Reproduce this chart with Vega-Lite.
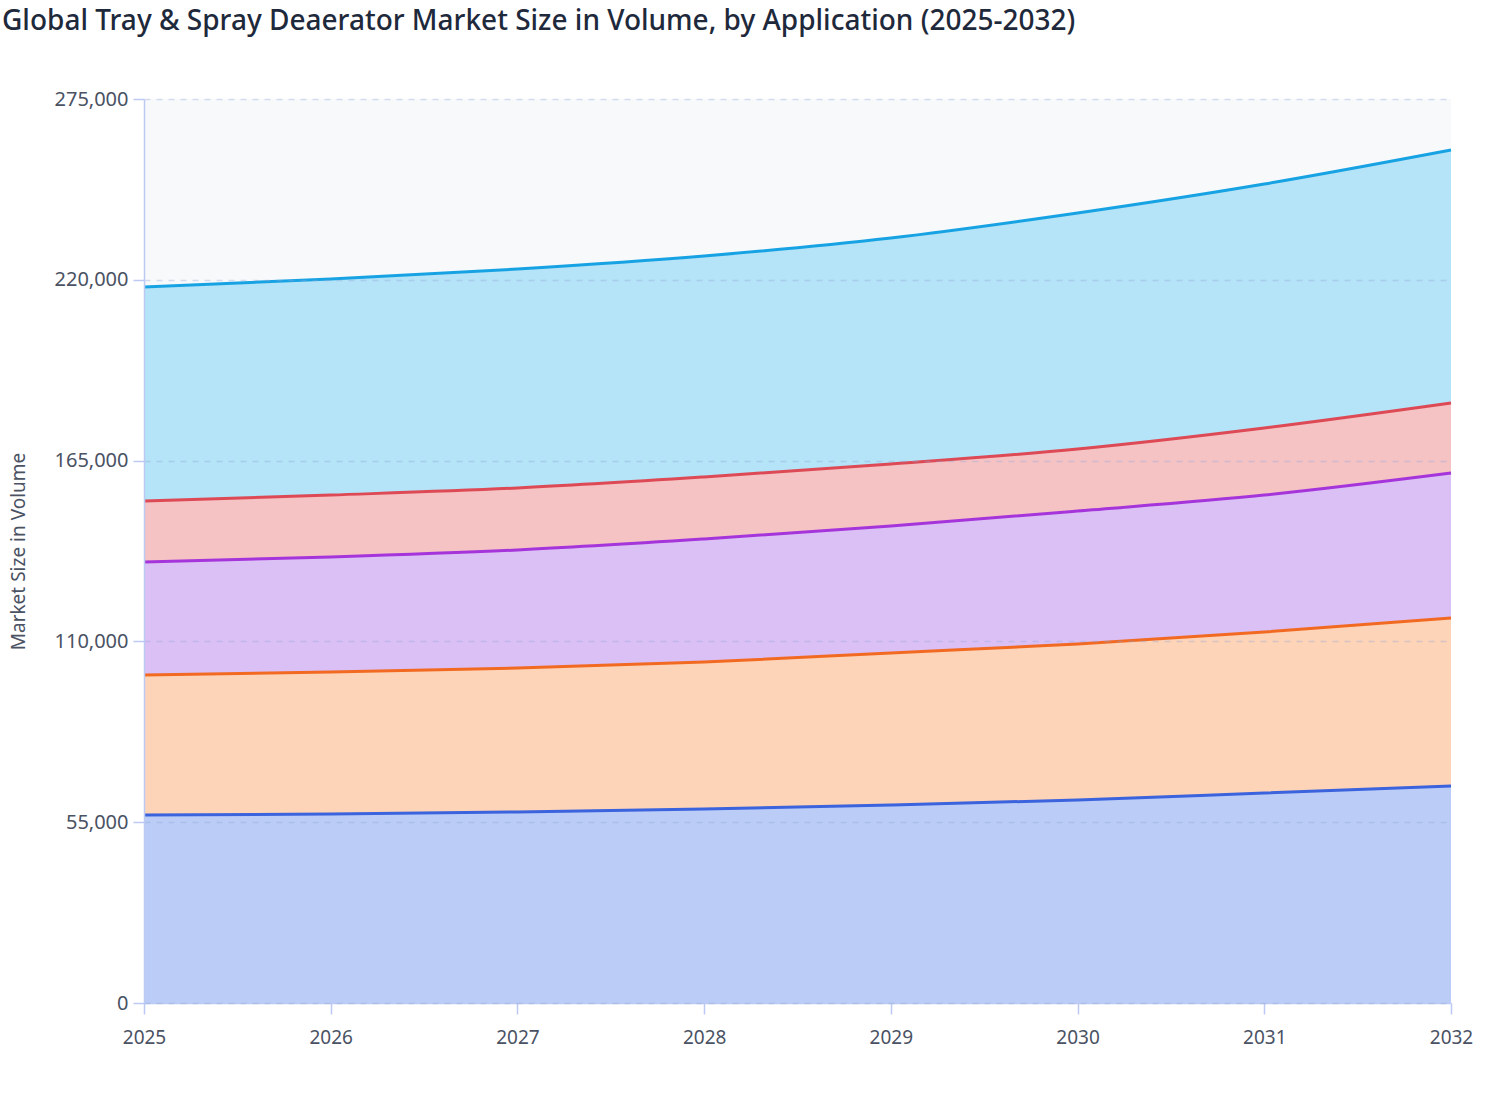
{
  "$schema": "https://vega.github.io/schema/vega-lite/v6.json",
  "width": 1307,
  "height": 904,
  "autosize": "none",
  "padding": {"left": 144, "top": 99, "right": 57, "bottom": 117},
  "background": "white",
  "title": {
    "text": "Global Tray & Spray Deaerator Market Size in Volume, by Application (2025-2032)",
    "anchor": "start",
    "frame": "group",
    "dx": -142,
    "offset": 53,
    "font": "Noto Sans",
    "fontSize": 28,
    "fontWeight": 500,
    "color": "#1e293b"
  },
  "data": {
    "values": [
      {"year": 2025, "application": "A", "rank": 1, "volume": 57190},
      {"year": 2026, "application": "A", "rank": 1, "volume": 57490},
      {"year": 2027, "application": "A", "rank": 1, "volume": 58100},
      {"year": 2028, "application": "A", "rank": 1, "volume": 59010},
      {"year": 2029, "application": "A", "rank": 1, "volume": 60230},
      {"year": 2030, "application": "A", "rank": 1, "volume": 61750},
      {"year": 2031, "application": "A", "rank": 1, "volume": 63880},
      {"year": 2032, "application": "A", "rank": 1, "volume": 66010},
      {"year": 2025, "application": "B", "rank": 2, "volume": 42590},
      {"year": 2026, "application": "B", "rank": 2, "volume": 43200},
      {"year": 2027, "application": "B", "rank": 2, "volume": 43810},
      {"year": 2028, "application": "B", "rank": 2, "volume": 44720},
      {"year": 2029, "application": "B", "rank": 2, "volume": 46240},
      {"year": 2030, "application": "B", "rank": 2, "volume": 47460},
      {"year": 2031, "application": "B", "rank": 2, "volume": 48980},
      {"year": 2032, "application": "B", "rank": 2, "volume": 51110},
      {"year": 2025, "application": "C", "rank": 3, "volume": 34370},
      {"year": 2026, "application": "C", "rank": 3, "volume": 34980},
      {"year": 2027, "application": "C", "rank": 3, "volume": 35890},
      {"year": 2028, "application": "C", "rank": 3, "volume": 37420},
      {"year": 2029, "application": "C", "rank": 3, "volume": 38630},
      {"year": 2030, "application": "C", "rank": 3, "volume": 40460},
      {"year": 2031, "application": "C", "rank": 3, "volume": 41670},
      {"year": 2032, "application": "C", "rank": 3, "volume": 44110},
      {"year": 2025, "application": "D", "rank": 4, "volume": 18560},
      {"year": 2026, "application": "D", "rank": 4, "volume": 18860},
      {"year": 2027, "application": "D", "rank": 4, "volume": 18860},
      {"year": 2028, "application": "D", "rank": 4, "volume": 18860},
      {"year": 2029, "application": "D", "rank": 4, "volume": 18860},
      {"year": 2030, "application": "D", "rank": 4, "volume": 18860},
      {"year": 2031, "application": "D", "rank": 4, "volume": 20390},
      {"year": 2032, "application": "D", "rank": 4, "volume": 21290},
      {"year": 2025, "application": "E", "rank": 5, "volume": 65100},
      {"year": 2026, "application": "E", "rank": 5, "volume": 65710},
      {"year": 2027, "application": "E", "rank": 5, "volume": 66620},
      {"year": 2028, "application": "E", "rank": 5, "volume": 67230},
      {"year": 2029, "application": "E", "rank": 5, "volume": 68750},
      {"year": 2030, "application": "E", "rank": 5, "volume": 71790},
      {"year": 2031, "application": "E", "rank": 5, "volume": 74220},
      {"year": 2032, "application": "E", "rank": 5, "volume": 76960}
    ]
  },
  "encoding": {
    "x": {
      "field": "year",
      "type": "quantitative",
      "scale": {"domain": [2025, 2032], "nice": false, "zero": false},
      "axis": {
        "values": [2025, 2026, 2027, 2028, 2029, 2030, 2031, 2032],
        "format": "d",
        "title": null,
        "grid": false,
        "labelFlush": false,
        "labelPadding": 14,
        "labelFontSize": 19,
        "tickSize": 11
      }
    },
    "y": {
      "field": "volume",
      "type": "quantitative",
      "stack": "zero",
      "scale": {"domain": [0, 275000], "nice": false},
      "axis": {
        "values": [0, 55000, 110000, 165000, 220000, 275000],
        "format": ",d",
        "title": "Market Size in Volume",
        "titlePadding": 26,
        "titleFontSize": 19,
        "labelFontSize": 20,
        "labelPadding": 5,
        "tickSize": 11,
        "gridDash": [6, 6],
        "gridColor": "#8ea3d8",
        "gridOpacity": 0.35,
        "gridWidth": 1.5,
        "zindex": 1
      }
    },
    "order": {"field": "rank", "type": "quantitative"}
  },
  "layer": [
    {
      "mark": {"type": "area", "interpolate": "monotone"},
      "encoding": {
        "fill": {
          "field": "application",
          "type": "nominal",
          "scale": {"domain": ["A", "B", "C", "D", "E"], "range": ["#bbcdf6", "#fdd4b8", "#dbc0f5", "#f5c3c4", "#b5e3f7"]},
          "legend": null
        }
      }
    },
    {
      "mark": {"type": "line", "interpolate": "monotone", "strokeWidth": 3},
      "encoding": {
        "stroke": {
          "field": "application",
          "type": "nominal",
          "scale": {"domain": ["A", "B", "C", "D", "E"], "range": ["#3b63dd", "#f26a22", "#a535db", "#dd4a55", "#17a3e3"]},
          "legend": null
        }
      }
    }
  ],
  "config": {
    "view": {"fill": "#f8f9fb", "stroke": null},
    "font": "Noto Sans",
    "axis": {
      "domainColor": "#bccaf3",
      "domainWidth": 1.5,
      "tickColor": "#bccaf3",
      "tickWidth": 1.5,
      "labelColor": "#4a5263",
      "titleColor": "#4a5263",
      "titleFontWeight": "normal",
      "labelFont": "Noto Sans",
      "titleFont": "Noto Sans"
    }
  }
}
